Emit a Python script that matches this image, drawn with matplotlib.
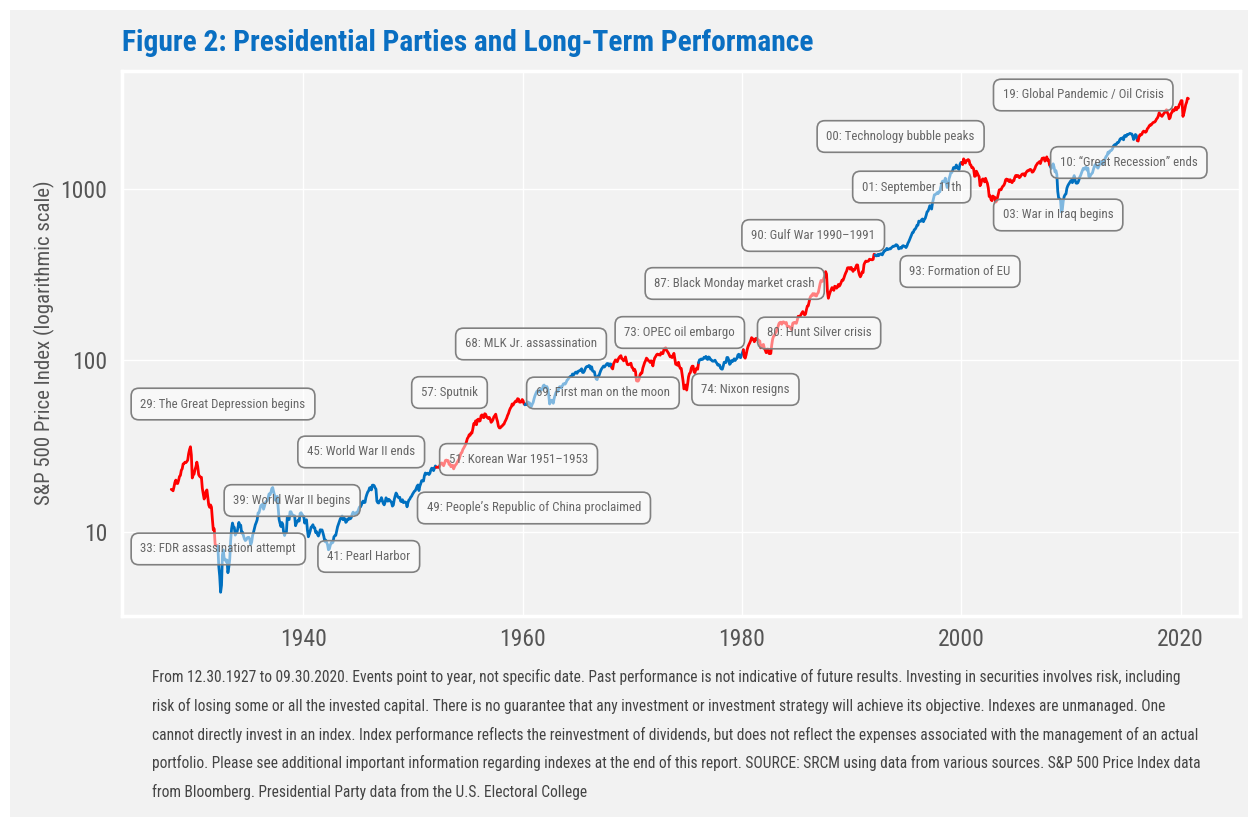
import numpy as np
import matplotlib
matplotlib.use("Agg")
import matplotlib.pyplot as plt
from matplotlib import font_manager as fm
from matplotlib.patches import Rectangle

# ---------------- data ----------------
first_date = 1927 + 11.5 / 12      # Dec 1927
first_value = 17.66
start_year = 1928                  # monthly values from Jan 1928

sp500_monthly = [
    17.53, 17.32, 18.25, 19.40, 20.00, 19.14, 19.10, 19.90, 21.00, 21.30, 22.80, 23.30,   # 1928
    24.86, 24.99, 25.43, 25.28, 25.66, 26.15, 28.47, 30.10, 31.30, 27.99, 20.58, 21.40,   # 1929
    21.71, 23.07, 23.94, 25.46, 23.94, 21.52, 21.06, 20.79, 20.78, 17.92, 16.62, 15.51,   # 1930
    15.98, 17.20, 17.53, 15.86, 14.33, 13.87, 14.33, 13.90, 11.83, 10.25, 10.39, 8.44,    # 1931
    8.30, 8.23, 8.26, 6.28, 5.51, 4.43, 4.87, 7.32, 7.83, 6.86, 6.91, 6.70,               # 1932
    6.83, 5.76, 6.23, 6.89, 8.87, 10.39, 11.23, 10.67, 10.58, 9.55, 9.78, 9.97,           # 1933
    10.54, 11.32, 10.74, 10.92, 9.81, 9.94, 9.47, 9.10, 8.88, 8.95, 9.20, 9.26,           # 1934
    9.26, 8.98, 8.41, 8.70, 9.49, 9.92, 10.46, 10.97, 11.31, 11.73, 12.87, 12.88,         # 1935
    13.49, 14.19, 14.30, 14.47, 13.53, 14.08, 14.76, 15.05, 15.14, 15.74, 16.62, 16.40,   # 1936
    16.94, 17.84, 18.11, 17.10, 16.29, 15.24, 15.92, 16.07, 13.84, 11.80, 11.20, 10.72,   # 1937
    11.31, 11.04, 9.89, 9.50, 9.87, 9.94, 12.24, 11.86, 11.77, 13.06, 13.07, 12.69,       # 1938
    12.50, 12.40, 12.39, 10.83, 11.23, 11.43, 11.71, 11.54, 12.77, 12.90, 12.67, 12.37,   # 1939
    12.30, 11.22, 11.57, 11.74, 10.22, 9.34, 9.66, 10.08, 10.63, 10.73, 10.98, 10.53,     # 1940
    10.55, 9.89, 10.01, 9.64, 9.43, 9.76, 10.26, 10.21, 10.24, 9.83, 9.37, 8.76,          # 1941
    8.93, 8.65, 8.41, 7.84, 7.93, 8.33, 8.64, 8.59, 8.68, 9.32, 9.47, 9.52,               # 1942
    10.09, 10.69, 11.07, 11.44, 11.89, 12.10, 12.35, 11.74, 11.99, 11.88, 11.33, 11.48,   # 1943
    11.85, 11.77, 12.10, 11.89, 12.10, 12.67, 13.00, 12.81, 12.60, 12.91, 12.82, 13.10,   # 1944
    13.49, 13.94, 13.93, 14.28, 14.82, 15.09, 14.78, 14.83, 15.84, 16.50, 17.04, 17.33,   # 1945
    18.02, 18.07, 17.53, 18.66, 18.70, 18.58, 18.05, 17.70, 15.09, 14.75, 14.69, 15.13,   # 1946
    15.21, 15.80, 15.16, 14.60, 14.34, 14.84, 15.77, 15.46, 15.06, 15.45, 15.27, 15.03,   # 1947
    14.83, 14.10, 14.30, 15.40, 16.15, 16.82, 16.42, 15.94, 15.76, 15.88, 15.08, 14.97,   # 1948
    15.36, 14.77, 14.91, 14.89, 14.78, 13.97, 14.76, 15.29, 15.49, 15.89, 16.11, 16.54,   # 1949
    16.88, 17.21, 17.35, 17.84, 18.44, 18.74, 17.38, 18.43, 19.08, 19.87, 19.83, 19.75,   # 1950
    21.21, 22.00, 21.63, 21.92, 21.93, 21.55, 21.93, 22.89, 23.48, 23.36, 22.71, 23.41,   # 1951
    24.19, 23.75, 23.81, 23.74, 23.73, 24.38, 25.08, 25.18, 24.78, 24.26, 25.03, 26.04,   # 1952
    26.18, 25.86, 25.99, 24.71, 24.84, 23.95, 24.29, 24.39, 23.27, 23.97, 24.50, 24.83,   # 1953
    25.46, 26.02, 26.57, 27.63, 28.73, 28.96, 30.13, 30.73, 31.45, 32.18, 33.44, 34.97,   # 1954
    35.60, 36.79, 36.50, 37.76, 37.60, 39.78, 42.69, 42.43, 44.34, 42.11, 44.95, 45.37,   # 1955
    44.15, 44.43, 47.49, 48.05, 46.54, 46.27, 48.78, 48.49, 46.84, 46.24, 45.76, 46.44,   # 1956
    45.43, 43.47, 44.03, 45.05, 46.78, 47.55, 48.51, 45.84, 43.98, 41.24, 40.35, 40.33,   # 1957
    41.12, 41.26, 42.11, 42.34, 43.70, 44.75, 45.98, 47.70, 48.96, 50.95, 52.50, 53.49,   # 1958
    55.62, 54.77, 56.15, 57.10, 57.96, 57.46, 59.74, 59.40, 57.05, 57.00, 57.23, 59.06,   # 1959
    58.03, 55.78, 55.02, 55.73, 55.22, 57.26, 55.84, 56.51, 54.81, 53.73, 55.47, 56.80,   # 1960
    59.72, 62.17, 64.12, 65.83, 66.50, 65.62, 65.44, 67.79, 67.26, 68.00, 71.08, 71.74,   # 1961
    69.07, 70.22, 70.29, 68.05, 62.99, 55.63, 56.97, 58.52, 58.00, 56.17, 60.04, 62.64,   # 1962
    65.06, 65.92, 65.67, 68.76, 70.14, 70.11, 69.07, 70.98, 72.85, 73.03, 72.62, 74.17,   # 1963
    76.45, 77.39, 78.80, 79.94, 80.72, 80.24, 83.22, 82.00, 83.41, 84.85, 85.44, 83.96,   # 1964
    86.12, 86.75, 86.83, 87.97, 89.28, 85.04, 84.91, 86.49, 89.38, 91.39, 92.15, 91.73,   # 1965
    93.32, 92.69, 88.88, 91.60, 86.78, 86.06, 85.84, 80.65, 77.81, 77.13, 80.99, 81.33,   # 1966
    84.45, 87.36, 89.42, 90.96, 92.59, 91.43, 93.01, 94.49, 95.81, 95.66, 92.66, 95.30,   # 1967
    95.04, 90.75, 89.09, 95.67, 97.87, 100.53, 100.30, 98.11, 101.34, 103.76, 105.40, 106.48,  # 1968
    102.04, 101.46, 99.30, 101.26, 104.62, 99.14, 94.71, 94.18, 94.51, 95.52, 96.21, 91.11,    # 1969
    90.31, 87.16, 88.65, 85.95, 76.06, 75.59, 75.72, 77.92, 82.58, 84.37, 84.28, 90.05,        # 1970
    93.49, 97.11, 99.60, 103.04, 101.64, 99.72, 99.00, 97.24, 99.40, 97.29, 92.78, 99.17,      # 1971
    103.30, 105.24, 107.69, 108.81, 107.65, 108.01, 107.21, 111.01, 109.39, 109.56, 115.05, 117.50,  # 1972
    118.42, 114.16, 112.42, 110.27, 107.22, 104.75, 105.83, 103.80, 105.61, 109.84, 102.03, 94.78,   # 1973
    96.11, 93.45, 97.44, 92.46, 89.67, 89.79, 82.82, 76.03, 68.12, 69.44, 71.74, 67.07,        # 1974
    72.56, 80.10, 83.78, 84.72, 90.10, 92.40, 92.49, 85.71, 84.67, 88.57, 90.07, 88.70,        # 1975
    96.86, 100.64, 101.08, 101.93, 101.16, 101.77, 104.20, 103.29, 105.45, 101.89, 101.19, 104.66,  # 1976
    103.81, 100.96, 100.57, 99.05, 98.76, 99.29, 100.18, 97.75, 96.23, 93.74, 94.28, 93.82,    # 1977
    90.25, 88.98, 88.82, 92.71, 97.41, 97.66, 97.19, 103.92, 103.86, 100.58, 94.71, 96.11,     # 1978
    99.71, 98.23, 100.11, 102.07, 99.73, 101.73, 102.71, 107.36, 108.60, 104.47, 103.66, 107.78,  # 1979
    110.87, 115.34, 104.69, 102.97, 107.69, 114.55, 119.83, 123.50, 126.51, 130.22, 135.65, 133.48,  # 1980
    132.97, 128.40, 133.19, 134.43, 131.73, 132.28, 129.13, 129.63, 118.27, 119.80, 122.92, 123.79,  # 1981
    117.28, 114.50, 110.84, 116.31, 116.35, 109.70, 109.38, 109.65, 122.43, 132.66, 138.10, 139.37,  # 1982
    144.27, 146.80, 151.88, 157.71, 164.10, 166.39, 166.96, 162.42, 167.16, 167.65, 165.23, 164.36,  # 1983
    166.39, 157.25, 157.44, 157.60, 156.55, 153.12, 151.08, 164.42, 166.11, 164.82, 166.27, 164.48,  # 1984
    171.61, 180.88, 179.42, 180.62, 184.90, 188.89, 192.54, 188.31, 184.06, 186.18, 197.45, 207.26,  # 1985
    208.19, 219.37, 232.33, 237.98, 238.46, 245.30, 240.18, 245.00, 238.27, 237.36, 245.09, 248.61,  # 1986
    264.51, 280.93, 292.47, 289.32, 289.12, 301.38, 310.09, 329.36, 318.66, 251.79, 230.30, 240.96,  # 1987
    250.48, 258.13, 265.74, 262.61, 256.20, 270.68, 269.05, 263.73, 267.97, 277.40, 271.02, 276.51,  # 1988
    285.41, 294.01, 292.71, 302.25, 313.93, 323.73, 331.93, 346.61, 347.33, 347.40, 340.22, 348.57,  # 1989
    339.97, 330.45, 338.47, 338.18, 350.25, 360.39, 360.03, 330.75, 315.41, 307.12, 315.29, 328.75,  # 1990
    325.49, 362.26, 372.28, 379.68, 377.99, 378.29, 380.23, 389.40, 387.20, 386.88, 385.92, 388.51,  # 1991
    416.08, 412.56, 407.36, 407.41, 414.81, 408.27, 415.05, 417.93, 418.48, 412.50, 422.84, 435.64,  # 1992
    435.23, 441.70, 450.16, 443.08, 445.25, 448.06, 447.29, 454.13, 459.24, 463.90, 462.89, 465.95,  # 1993
    472.99, 471.58, 463.81, 447.23, 450.90, 454.83, 451.40, 464.24, 466.96, 463.81, 461.01, 455.19,  # 1994
    465.25, 481.92, 493.15, 507.91, 523.81, 539.35, 557.37, 559.11, 578.77, 582.92, 595.53, 614.57,  # 1995
    614.42, 649.54, 647.07, 647.17, 661.23, 668.50, 644.07, 662.68, 674.88, 701.46, 735.67, 743.25,  # 1996
    766.22, 798.39, 792.16, 763.93, 833.09, 876.29, 925.29, 927.74, 937.02, 951.16, 938.92, 962.37,  # 1997
    963.36, 1023.74, 1076.83, 1112.20, 1108.42, 1108.39, 1156.58, 1074.62, 1020.64, 1032.47, 1144.43, 1190.05,  # 1998
    1248.77, 1246.58, 1281.66, 1334.76, 1332.07, 1322.55, 1380.99, 1327.49, 1318.17, 1300.01, 1391.00, 1428.68,  # 1999
    1425.59, 1388.87, 1498.58, 1461.36, 1418.48, 1461.96, 1473.00, 1485.46, 1468.05, 1390.14, 1378.04, 1330.93,  # 2000
    1335.63, 1305.75, 1185.85, 1189.84, 1270.37, 1238.71, 1204.45, 1178.50, 1044.64, 1076.59, 1129.68, 1144.93,  # 2001
    1140.21, 1100.67, 1153.79, 1112.03, 1079.27, 1014.02, 903.59, 912.55, 867.81, 854.63, 909.93, 899.18,  # 2002
    895.84, 837.62, 846.62, 890.03, 935.96, 988.00, 992.54, 989.53, 1019.44, 1038.73, 1049.90, 1080.64,  # 2003
    1132.52, 1143.36, 1123.98, 1133.08, 1102.78, 1132.76, 1105.85, 1088.94, 1117.66, 1118.07, 1168.94, 1199.21,  # 2004
    1181.41, 1199.63, 1194.90, 1164.42, 1178.28, 1202.26, 1222.24, 1224.27, 1225.91, 1191.96, 1237.37, 1262.07,  # 2005
    1278.72, 1276.65, 1293.74, 1302.18, 1290.00, 1253.12, 1260.24, 1287.15, 1317.81, 1363.38, 1388.63, 1416.42,  # 2006
    1424.16, 1444.79, 1406.95, 1463.65, 1511.14, 1514.49, 1520.70, 1454.62, 1497.12, 1539.66, 1463.39, 1479.22,  # 2007
    1378.76, 1354.87, 1316.94, 1370.47, 1403.22, 1341.25, 1257.33, 1281.47, 1216.95, 968.80, 883.04, 877.56,  # 2008
    865.58, 735.09, 757.13, 848.15, 902.41, 926.12, 935.82, 1009.72, 1044.55, 1067.66, 1088.07, 1110.38,  # 2009
    1123.58, 1089.16, 1152.05, 1197.32, 1125.06, 1083.36, 1079.80, 1087.28, 1122.08, 1171.58, 1198.89, 1241.53,  # 2010
    1282.62, 1321.12, 1304.49, 1331.51, 1338.31, 1287.29, 1325.18, 1185.31, 1173.88, 1207.22, 1226.42, 1243.32,  # 2011
    1300.58, 1352.49, 1389.24, 1386.43, 1341.27, 1323.48, 1359.78, 1403.45, 1443.42, 1437.82, 1394.51, 1422.29,  # 2012
    1480.40, 1512.31, 1550.83, 1570.70, 1639.84, 1618.77, 1668.68, 1670.09, 1687.17, 1720.03, 1783.54, 1807.78,  # 2013
    1822.36, 1817.03, 1863.52, 1864.26, 1889.77, 1947.09, 1973.10, 1961.53, 1993.23, 1937.27, 2044.57, 2054.27,  # 2014
    2028.18, 2082.20, 2079.99, 2094.86, 2111.94, 2099.29, 2094.14, 2039.87, 1944.41, 2024.81, 2080.62, 2054.08,  # 2015
    1918.60, 1904.42, 2021.95, 2075.54, 2065.55, 2083.89, 2148.90, 2177.48, 2157.69, 2143.02, 2164.99, 2246.63,  # 2016
    2275.12, 2329.91, 2366.82, 2359.31, 2395.35, 2433.99, 2454.10, 2456.22, 2492.84, 2557.00, 2593.61, 2664.34,  # 2017
    2789.80, 2705.16, 2702.77, 2653.63, 2701.49, 2754.35, 2793.64, 2857.82, 2901.50, 2785.46, 2723.23, 2567.31,  # 2018
    2607.39, 2754.86, 2803.98, 2903.80, 2854.71, 2890.17, 2996.11, 2897.50, 2982.16, 2977.68, 3104.90, 3176.75,  # 2019
    3278.20, 3277.31, 2652.39, 2761.98, 2919.62, 3104.66, 3207.62, 3391.71, 3365.52,                              # 2020
]

# years where the colour (presidential party) changes, and party sequence
party_switch_years = [1932.2, 1952.1, 1960.2, 1968.1, 1976.0, 1980.1, 1992.1, 2000.0, 2008.1, 2016.0]
party_sequence = ["R", "D", "R", "D", "R", "D", "R", "D", "R", "D", "R"]
party_colors = {"R": "#ff0000", "D": "#0070c0"}

event_labels = [
    "29: The Great Depression begins", "33: FDR assassination attempt",
    "39: World War II begins", "41: Pearl Harbor", "45: World War II ends",
    "49: People\u2019s Republic of China proclaimed", "51: Korean War 1951\u20131953",
    "57: Sputnik", "68: MLK Jr. assassination", "69: First man on the moon",
    "73: OPEC oil embargo", "74: Nixon resigns", "80: Hunt Silver crisis",
    "87: Black Monday market crash", "90: Gulf War 1990\u20131991",
    "93: Formation of EU", "00: Technology bubble peaks", "01: September 11th",
    "03: War in Iraq begins", "10: \u201cGreat Recession\u201d ends",
    "19: Global Pandemic / Oil Crisis",
]
event_x = [1925.15, 1925.15, 1933.63, 1942.18, 1940.35, 1951.26, 1953.28, 1950.73,
           1954.74, 1961.21, 1969.28, 1976.28, 1982.26, 1972.02, 1980.84, 1995.27,
           1987.70, 1990.94, 2003.79, 2008.99, 2003.78]
event_y = [55.6, 7.93, 15.2, 7.17, 29.2, 13.75, 26.4, 64.9, 124.6, 64.5, 145.4, 67.6,
           144.4, 280.9, 535.3, 330.0, 2025.0, 1027.0, 705.3, 1428.0, 3537.0]

x_ticks = [1940, 1960, 1980, 2000, 2020]
y_ticks = [10, 100, 1000]

title_text = "Figure 2: Presidential Parties and Long-Term Performance"
ylabel_text = "S&P 500 Price Index (logarithmic scale)"
footnote_lines = [
    "From 12.30.1927 to 09.30.2020. Events point to year, not specific date. Past performance is not indicative of future results. Investing in securities involves risk, including",
    "risk of losing some or all the invested capital. There is no guarantee that any investment or investment strategy will achieve its objective. Indexes are unmanaged. One",
    "cannot directly invest in an index. Index performance reflects the reinvestment of dividends, but does not reflect the expenses associated with the management of an actual",
    "portfolio. Please see additional important information regarding indexes at the end of this report. SOURCE: SRCM using data from various sources. S&P 500 Price Index data",
    "from Bloomberg. Presidential Party data from the U.S. Electoral College",
]

# ---------------- fonts ----------------
available = {f.name for f in fm.fontManager.ttflist}
NARROW = None
for cand in ["Liberation Sans Narrow", "Roboto Condensed", "Open Sans Condensed"]:
    if cand in available:
        NARROW = cand
        break
if NARROW is None:
    NARROW = "Liberation Sans" if "Liberation Sans" in available else "DejaVu Sans"
FAM = [NARROW, "DejaVu Sans"]
plt.rcParams["font.family"] = FAM

# ---------------- figure ----------------
W, H = 1248, 817
fig = plt.figure(figsize=(W / 100, H / 100), dpi=100, facecolor="white")
BG = "#f2f2f2"
fig.patches.append(Rectangle((10 / W, 0), 1, 1 - 10 / H, transform=fig.transFigure,
                             facecolor=BG, edgecolor="none", zorder=-10))

ax_l, ax_r, ax_t, ax_b = 121.7, 1240, 71, 616
ax = fig.add_axes([ax_l / W, 1 - ax_b / H, (ax_r - ax_l) / W, (ax_b - ax_t) / H])
ax.set_facecolor(BG)

dates = np.concatenate([[first_date], start_year + (np.arange(len(sp500_monthly)) + 0.5) / 12])
values = np.concatenate([[first_value], np.array(sp500_monthly)])

bounds = [dates[0] - 1] + party_switch_years + [dates[-1] + 1]
for i, party in enumerate(party_sequence):
    lo, hi = bounds[i], bounds[i + 1]
    idx = np.where((dates >= lo) & (dates < hi))[0]
    if len(idx) == 0:
        continue
    if idx[-1] + 1 < len(dates):
        idx = np.append(idx, idx[-1] + 1)
    ax.plot(dates[idx], values[idx], color=party_colors[party], lw=2.0,
            solid_joinstyle="round", solid_capstyle="round", zorder=3)

ax.set_yscale("log")
ax.set_xlim(1923.44, 2025.41)
ax.set_ylim(3.22, 4883)
ax.set_xticks(x_ticks)
ax.set_xticklabels([str(t) for t in x_ticks])
ax.set_yticks(y_ticks)
ax.set_yticklabels([str(t) for t in y_ticks])
ax.yaxis.set_minor_locator(matplotlib.ticker.NullLocator())
ax.tick_params(axis="both", length=0, labelsize=17, colors="#555555")
ax.tick_params(axis="y", pad=10.5)
ax.tick_params(axis="x", pad=9)
ax.grid(True, color="white", lw=1.0, zorder=0)
ax.set_axisbelow(True)
for s in ax.spines.values():
    s.set_color("white")
    s.set_linewidth(2.5)

for lab, ex, ey in zip(event_labels, event_x, event_y):
    ax.text(ex, ey, lab, ha="left", va="center", fontsize=9.3, color="#666666",
            zorder=6,
            bbox=dict(boxstyle="round,pad=0.72,rounding_size=0.6", facecolor=(1, 1, 1, 0.5),
                      edgecolor="#808080", linewidth=1.2))

fig.text(44 / W, 1 - 343 / H, ylabel_text, rotation=90, ha="center", va="center",
         fontsize=15, color="#555555")

title = fig.text(122 / W, 1 - 51 / H, title_text, ha="left", va="baseline",
                 fontsize=21, fontweight="bold", color="#0a6fc2")

foot = []
for k, line in enumerate(footnote_lines):
    foot.append(fig.text(152 / W, 1 - (677 + k * 28.8) / H, line, ha="left", va="center",
                         fontsize=11.5, color="#444444"))

# fit widths of title and footnote to the reference layout
fig.canvas.draw()
r = fig.canvas.get_renderer()
tw = title.get_window_extent(r).width
title.set_fontsize(21 * 694 / tw)
fw = foot[3].get_window_extent(r).width
fs = 11.5 * 1053 / fw
for t in foot:
    t.set_fontsize(fs)

fig.savefig("out.png", dpi=100, facecolor="white")
